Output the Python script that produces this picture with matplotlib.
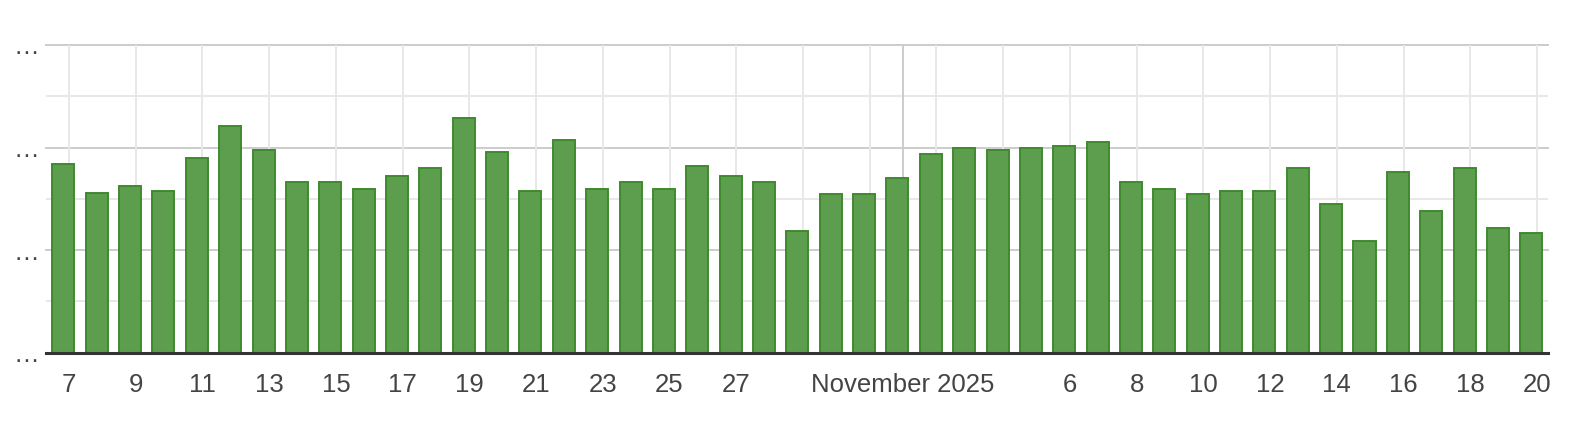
import matplotlib
matplotlib.use("Agg")
import matplotlib.pyplot as plt
import pandas as pd

plt.rcParams["font.family"] = ["Liberation Sans", "DejaVu Sans"]

# ---- data ----
start_date = "2025-10-07"
end_date = "2025-11-20"
values = [
    3.67, 3.12, 3.24, 3.16, 3.79, 4.42, 3.95, 3.32, 3.32, 3.20,   # Oct 7-16
    3.44, 3.60, 4.58, 3.91, 3.16, 4.15, 3.20, 3.32, 3.20, 3.64,   # Oct 17-26
    3.44, 3.32, 2.38, 3.09, 3.09,                                 # Oct 27-31
    3.40, 3.87, 3.99, 3.95, 3.99, 4.03, 4.11, 3.32, 3.20, 3.09,   # Nov 1-10
    3.16, 3.16, 3.60, 2.89, 2.18, 3.52, 2.77, 3.60, 2.42, 2.34,   # Nov 11-20
]
y_major = [0, 2, 4, 6]
y_minor = [1, 3, 5]
y_labels = ["…", "…", "…", "…"]
month_label = "November 2025"

dates = pd.date_range(start_date, end_date, freq="D")
idx = list(range(len(dates)))

# ---- figure ----
W, H, DPI = 1596, 434, 100
fig = plt.figure(figsize=(W / DPI, H / DPI), dpi=DPI)
left, right, top, bottom = 46, 1548, 45, 352.5
ax = fig.add_axes([left / W, (H - bottom) / H, (right - left) / W, (bottom - top) / H])

text_color = "#444444"

ax.bar([i - 0.17 for i in idx], values, width=0.66,
       color="#5c9e4d", edgecolor="#3f8a2f", linewidth=1.4, zorder=3)

ax.set_xlim(-0.69, 44.33)
ax.set_ylim(0, 6)

# horizontal grid
for y in y_major[1:]:
    ax.axhline(y, color="#cccccc", lw=1.4, zorder=1, clip_on=False)
for y in y_minor:
    ax.axhline(y, color="#e8e8e8", lw=1.4, zorder=1)

# vertical grid & x tick labels
tick_pos, tick_lab = [], []
for i, d in zip(idx, dates):
    if d.day == 1:
        ax.axvline(i, color="#cccccc", lw=1.4, zorder=1)
        tick_pos.append(i)
        tick_lab.append(month_label)
    elif (d.month == 10 and d.day % 2 == 1) or (d.month == 11 and d.day % 2 == 0):
        ax.axvline(i, color="#e8e8e8", lw=1.4, zorder=1)
        if not (d.month == 10 and d.day > 27) and not (d.month == 11 and d.day < 6):
            tick_pos.append(i)
            tick_lab.append(str(d.day))

ax.set_xticks(tick_pos)
ax.set_xticklabels(tick_lab, fontsize=18.5, color=text_color)
ax.tick_params(axis="x", length=0, pad=14.5)

ax.set_yticks(y_major)
ax.set_yticklabels(y_labels, fontsize=18.5, color=text_color)
ax.tick_params(axis="y", length=0, pad=5)

for s in ["top", "right", "left"]:
    ax.spines[s].set_visible(False)
ax.spines["bottom"].set_color("#333333")
ax.spines["bottom"].set_linewidth(2.2)
ax.spines["bottom"].set_zorder(4)

fig.savefig("out.png", dpi=DPI)
